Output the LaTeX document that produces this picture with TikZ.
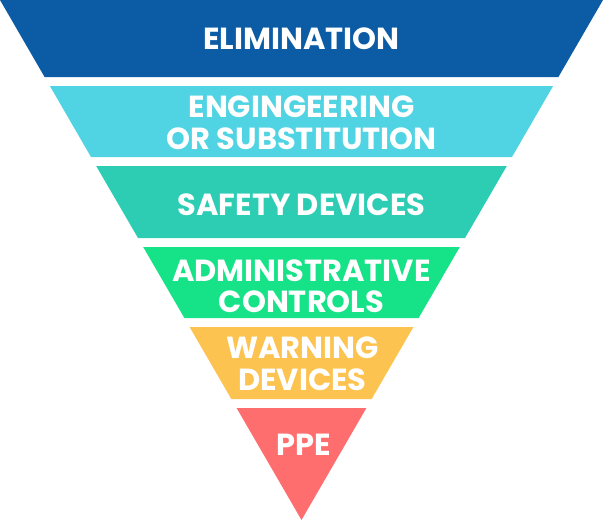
\documentclass[tikz,border=0pt]{standalone}
\usepackage{fontspec}
\setmainfont{Poppins}
\definecolor{cA}{RGB}{11,92,165}
\definecolor{cB}{RGB}{80,211,226}
\definecolor{cC}{RGB}{45,205,180}
\definecolor{cD}{RGB}{22,226,136}
\definecolor{cE}{RGB}{253,195,80}
\definecolor{cF}{RGB}{255,110,110}
\begin{document}
\begin{tikzpicture}[x=1pt,y=-1pt,
  lbl/.style={text=white,inner sep=0pt,align=center,
    font=\fontsize{30.5}{31.5}\selectfont\bfseries}]
\useasboundingbox (0,0) rectangle (603,522);
\fill[cA] (0,0) -- (603,0) -- (558.4,77) -- (44.6,77) -- cycle;
\fill[cB] (49.9,86) -- (553.1,86) -- (512,157) -- (91,157) -- cycle;
\fill[cC] (96.2,166) -- (506.8,166) -- (465,238) -- (138,238) -- cycle;
\fill[cD] (143.2,247) -- (459.8,247) -- (418.6,318) -- (184.4,318) -- cycle;
\fill[cE] (189.6,327) -- (413.4,327) -- (371.7,399) -- (231.3,399) -- cycle;
\fill[cF] (236.6,408) -- (366.4,408) -- (301.5,520) -- cycle;
\node[lbl] (elim) at (301.5,39) {ELIMINATION};
\node[lbl] (eng) at (301.5,123) {ENGINGEERING\\OR SUBSTITUTION};
\node[lbl] (safe) at (301.5,205) {SAFETY DEVICES};
\node[lbl] (admin) at (301.5,286) {ADMINISTRATIVE\\CONTROLS};
\node[lbl] (warn) at (302.5,364) {WARNING\\DEVICES};
\node[lbl] (ppe) at (303.5,445) {PPE};
\end{tikzpicture}
\end{document}
